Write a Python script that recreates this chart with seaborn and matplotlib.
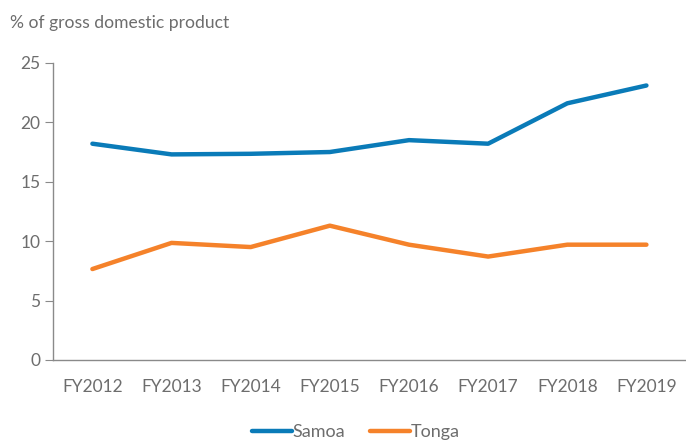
import matplotlib
matplotlib.use("Agg")
import matplotlib.pyplot as plt
import seaborn as sns
import pandas as pd

years = ["FY2012", "FY2013", "FY2014", "FY2015", "FY2016", "FY2017", "FY2018", "FY2019"]
samoa = [18.2, 17.3, 17.35, 17.5, 18.5, 18.2, 21.6, 23.1]
tonga = [7.65, 9.85, 9.5, 11.3, 9.7, 8.7, 9.7, 9.7]
yticks = [0, 5, 10, 15, 20, 25]

sns.set_style("white")
plt.rcParams["font.family"] = ["Lato", "DejaVu Sans"]

df = pd.DataFrame({
    "year": years * 2,
    "value": samoa + tonga,
    "country": ["Samoa"] * len(years) + ["Tonga"] * len(years),
})
df["x"] = list(range(len(years))) * 2

grey = "#6d6d6d"
fig = plt.figure(figsize=(6.86, 4.4), dpi=100)
ax = fig.add_axes([0.077, 0.182, 0.923, 0.675])
sns.lineplot(data=df, x="x", y="value", hue="country",
             palette={"Samoa": "#0a7bb8", "Tonga": "#f5822a"},
             linewidth=3.2, ax=ax, legend=False)

ax.set_xlim(-0.5, 7.5)
ax.set_ylim(0, 25)
ax.set_xticks(range(len(years)))
ax.set_xticklabels(years)
ax.set_yticks(yticks)
ax.set_xlabel("")
ax.set_ylabel("")
for s in ["top", "right"]:
    ax.spines[s].set_visible(False)
for s in ["left", "bottom"]:
    ax.spines[s].set_color("#8a8a8a")
    ax.spines[s].set_linewidth(1)
ax.tick_params(axis="y", length=6, color="#8a8a8a", labelsize=12.5, labelcolor=grey, pad=3, left=True)
ax.tick_params(axis="x", length=0, labelsize=12.5, labelcolor=grey, pad=14)

fig.text(0.014, 0.948, "% of gross domestic product", fontsize=12.6, color=grey, va="center", ha="left")

from matplotlib.lines import Line2D
handles = [Line2D([], [], color="#0a7bb8", lw=3.2), Line2D([], [], color="#f5822a", lw=3.2)]
leg = fig.legend(handles, ["Samoa", "Tonga"], loc="center", bbox_to_anchor=(0.519, 0.018),
                 ncol=2, frameon=False, fontsize=13, handlelength=2.2, handletextpad=0.05,
                 columnspacing=1.4, labelcolor=grey)

fig.savefig("out.png", dpi=100)
